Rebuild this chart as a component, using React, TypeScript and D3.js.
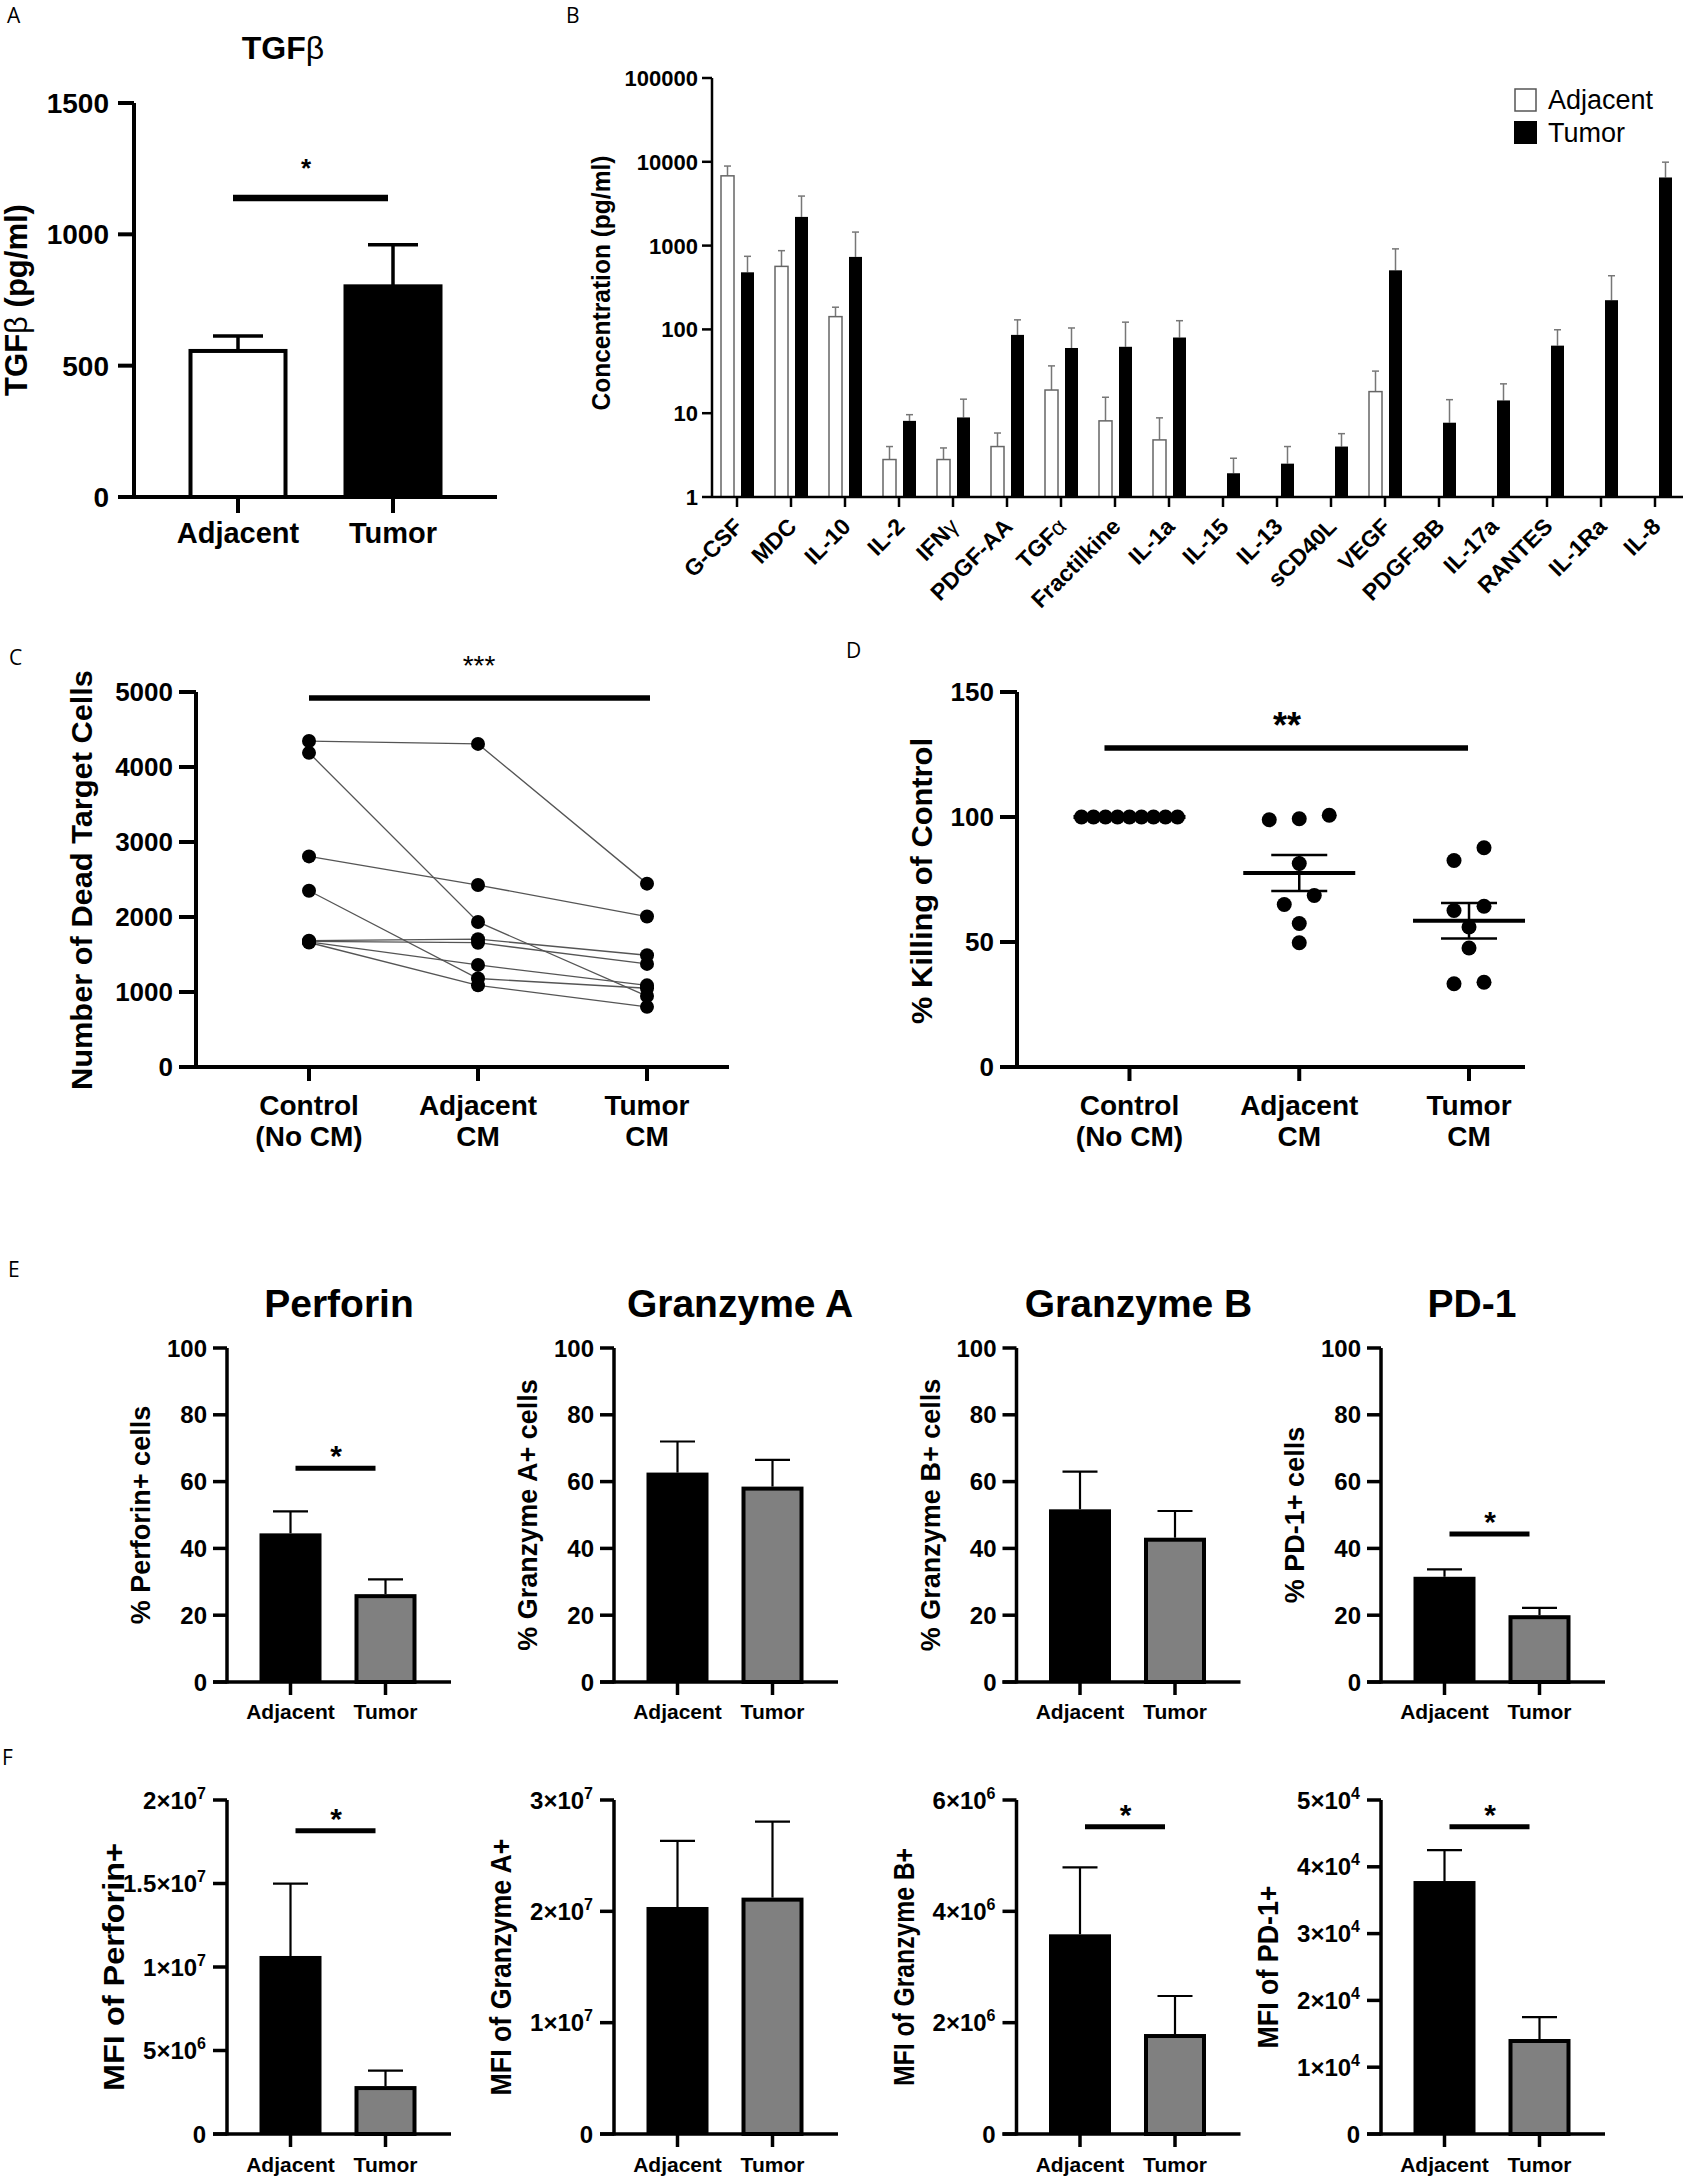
import React from "react";
import * as d3 from "d3";

const W = 1689;
const H = 2180;
const SANS = "'Liberation Sans', Arial, Helvetica, sans-serif";
const LETTER = "'Open Sans', 'Liberation Sans', sans-serif";

// A: TGFβ (pg/ml)
const tgfGroups = ["Adjacent", "Tumor"];
const tgfMean = [556, 802];
const tgfUpper = [613, 960];
const tgfTicks = [0, 500, 1000, 1500];

// B: cytokine concentrations (pg/ml), log axis
const cytokines = [
  "G-CSF", "MDC", "IL-10", "IL-2", "IFNγ", "PDGF-AA", "TGFα", "Fractilkine", "IL-1a",
  "IL-15", "IL-13", "sCD40L", "VEGF", "PDGF-BB", "IL-17a", "RANTES", "IL-1Ra", "IL-8",
];
const cytoAdjMean = [6800, 565, 142, 2.8, 2.8, 4.0, 18.9, 8.1, 4.8, null, null, null, 18.1, null, null, null, null, null];
const cytoAdjUpper = [8900, 870, 184, 4.0, 3.85, 5.8, 36.7, 15.5, 8.8, null, null, null, 31.8, null, null, null, null, null];
const cytoTumMean = [480, 2200, 733, 8.1, 8.9, 86, 60, 62, 80, 1.92, 2.5, 4.0, 507, 7.7, 14.2, 64, 223, 6500];
const cytoTumUpper = [745, 3900, 1450, 9.6, 14.7, 130, 104, 122, 127, 2.9, 4.0, 5.7, 914, 14.5, 22.4, 99, 437, 9900];
const cytoTicks = [1, 10, 100, 1000, 10000, 100000];

// C: dead target cells per donor [control, adjacent CM, tumor CM]
const cmLine1 = ["Control", "Adjacent", "Tumor"];
const cmLine2 = ["(No CM)", "CM", "CM"];
const deadCells = [
  [4346, 4308, 2445],
  [4189, 1934, 946],
  [2808, 2426, 2006],
  [2350, 1180, 1050],
  [1685, 1705, 1490],
  [1675, 1657, 1375],
  [1668, 1361, 1089],
  [1660, 1089, 802],
];
const deadTicks = [0, 1000, 2000, 3000, 4000, 5000];

// D: % killing of control
const killControl = [100, 100, 100, 100, 100, 100, 100, 100, 100];
const killAdjacent = [100.7, 99.3, 98.9, 81.4, 68.6, 65, 57.4, 49.7];
const killTumor = [87.7, 82.6, 64.3, 62.6, 56, 47.6, 33.9, 33.3];
const killTicks = [0, 50, 100, 150];

// E: % positive cells
const markers = ["Perforin", "Granzyme A", "Granzyme B", "PD-1"];
const pctLabels = ["% Perforin+ cells", "% Granzyme A+ cells", "% Granzyme B+ cells", "% PD-1+ cells"];
const pctAdj = [44.5, 62.7, 51.7, 31.5];
const pctAdjUpper = [51.1, 72, 63, 33.7];
const pctTum = [26.3, 58.5, 43.2, 20];
const pctTumUpper = [30.7, 66.5, 51.2, 22.2];
const pctSig = [64, null, null, 44.3];
const pctTicks = [0, 20, 40, 60, 80, 100];

// F: MFI
const mfiLabels = ["MFI of Perforin+", "MFI of Granzyme A+", "MFI of Granzyme B+", "MFI of PD-1+"];
const mfiAdj = [1.066e7, 2.039e7, 3.587e6, 3.787e4];
const mfiAdjUpper = [1.499e7, 2.632e7, 4.79e6, 4.25e4];
const mfiTum = [2.87e6, 2.123e7, 1.796e6, 1.422e4];
const mfiTumUpper = [3.79e6, 2.805e7, 2.479e6, 1.75e4];
const mfiSig = [1.816e7, null, 5.52e6, 4.6e4];
const mfiTicks = [
  [0, 5e6, 1e7, 1.5e7, 2e7],
  [0, 1e7, 2e7, 3e7],
  [0, 2e6, 4e6, 6e6],
  [0, 1e4, 2e4, 3e4, 4e4, 5e4],
];

// layout of the E/F sub panels
const subAxisX = [227, 614, 1016.5, 1381];
const subTitleDx = [112, 126, 122, 91];
const mfiLabelLen = [248, 257, 238, 163];

const splitGreek = (s: string) => {
  const last = s[s.length - 1];
  return /[α-ω]/.test(last) ? [s.slice(0, -1), last] : [s, ""];
};

const sci = (v: number) => {
  if (v === 0) return ["0", ""];
  const e = Math.floor(Math.log10(v) + 1e-9);
  const m = +(v / 10 ** e).toFixed(1);
  return [`${m}×10`, String(e)];
};

function PanelA() {
  const y = d3.scaleLinear().domain([0, 1500]).range([497, 103]);
  const x = d3.scalePoint<string>().domain(tgfGroups).range([160.5, 470.5]).padding(0.5);
  const axX = 134;
  return (
    <g>
      <text x={7} y={23} fontFamily={LETTER} fontSize={21}>A</text>
      <text x={283} y={59} textAnchor="middle" fontSize={32} fontWeight="bold">
        TGF<tspan fontWeight="normal">β</tspan>
      </text>
      {tgfGroups.map((g, i) => {
        const cx = x(g)!;
        return (
          <g key={g}>
            <line x1={cx} x2={cx} y1={y(tgfMean[i])} y2={y(tgfUpper[i])} stroke="#000" strokeWidth={3.5} />
            <line x1={cx - 25} x2={cx + 25} y1={y(tgfUpper[i])} y2={y(tgfUpper[i])} stroke="#000" strokeWidth={3.5} />
            <rect x={cx - 47.5} width={95} y={y(tgfMean[i])} height={y(0) - y(tgfMean[i])}
              fill={i === 0 ? "#fff" : "#000"} stroke="#000" strokeWidth={4} />
          </g>
        );
      })}
      <line x1={axX} x2={axX} y1={103} y2={499} stroke="#000" strokeWidth={4} />
      <line x1={118} x2={497} y1={497} y2={497} stroke="#000" strokeWidth={4} />
      {tgfTicks.map((t) => (
        <g key={t}>
          <line x1={118} x2={axX} y1={y(t)} y2={y(t)} stroke="#000" strokeWidth={4} />
          <text x={109} y={y(t)} dy="0.36em" textAnchor="end" fontSize={28} fontWeight="bold">{t}</text>
        </g>
      ))}
      {tgfGroups.map((g) => (
        <g key={g}>
          <line x1={x(g)!} x2={x(g)!} y1={497} y2={513} stroke="#000" strokeWidth={4} />
          <text x={x(g)!} y={543} textAnchor="middle" fontSize={29} fontWeight="bold">{g}</text>
        </g>
      ))}
      <text transform="translate(27,300) rotate(-90)" textAnchor="middle" fontSize={31} fontWeight="bold">
        TGF<tspan fontWeight="normal">β</tspan> (pg/ml)
      </text>
      <line x1={x(tgfGroups[0])! - 5} x2={x(tgfGroups[1])! - 5} y1={198} y2={198} stroke="#000" strokeWidth={6.5} />
      <text x={306} y={177} textAnchor="middle" fontSize={26} fontWeight="bold">*</text>
    </g>
  );
}

function PanelB() {
  const y = d3.scaleLog().domain([1, 100000]).range([497, 78]);
  const x = d3.scalePoint<string>().domain(cytokines).range([737, 1655]);
  const axX = 712;
  const bw = 13;
  return (
    <g>
      <text x={566} y={23} fontFamily={LETTER} fontSize={21}>B</text>
      {cytokines.map((c, i) => {
        const cx = x(c)!;
        const a = cytoAdjMean[i];
        const au = cytoAdjUpper[i];
        const t = cytoTumMean[i];
        const tu = cytoTumUpper[i];
        return (
          <g key={c}>
            {a != null && au != null && (
              <g>
                <line x1={cx - 9.5} x2={cx - 9.5} y1={y(a)} y2={y(au)} stroke="#777" strokeWidth={1.5} />
                <line x1={cx - 13} x2={cx - 6} y1={y(au)} y2={y(au)} stroke="#777" strokeWidth={1.5} />
                <rect x={cx - 16} width={bw} y={y(a)} height={y(1) - y(a)} fill="#fff" stroke="#666" strokeWidth={1.5} />
              </g>
            )}
            <line x1={cx + 10.5} x2={cx + 10.5} y1={y(t)} y2={y(tu)} stroke="#777" strokeWidth={1.5} />
            <line x1={cx + 7} x2={cx + 14} y1={y(tu)} y2={y(tu)} stroke="#777" strokeWidth={1.5} />
            <rect x={cx + 4} width={bw} y={y(t)} height={y(1) - y(t)} fill="#000" />
          </g>
        );
      })}
      <line x1={axX} x2={axX} y1={78} y2={498} stroke="#000" strokeWidth={2.5} />
      <line x1={axX} x2={1683} y1={497} y2={497} stroke="#000" strokeWidth={2.5} />
      {cytoTicks.map((t) => (
        <g key={t}>
          <line x1={702} x2={axX} y1={y(t)} y2={y(t)} stroke="#000" strokeWidth={2.5} />
          <text x={698} y={y(t)} dy="0.36em" textAnchor="end" fontSize={22} fontWeight="bold">{t}</text>
        </g>
      ))}
      {cytokines.map((c) => {
        const [main, greek] = splitGreek(c);
        return (
          <g key={c}>
            <line x1={x(c)!} x2={x(c)!} y1={497} y2={507} stroke="#000" strokeWidth={2.5} />
            <text transform={`translate(${x(c)! + 7},${528}) rotate(-45)`} textAnchor="end" fontSize={23} fontWeight="bold">
              {main}
              {greek && <tspan fontWeight="normal">{greek}</tspan>}
            </text>
          </g>
        );
      })}
      <text transform="translate(610,283) rotate(-90)" textAnchor="middle" fontSize={26} fontWeight="bold"
        textLength={255} lengthAdjust="spacingAndGlyphs">
        Concentration (pg/ml)
      </text>
      <rect x={1515} y={89} width={21} height={22} fill="#fff" stroke="#555" strokeWidth={1.5} />
      <rect x={1514} y={121} width={23} height={23} fill="#000" />
      <text x={1548} y={109} fontSize={27}>Adjacent</text>
      <text x={1548} y={142} fontSize={27}>Tumor</text>
    </g>
  );
}

function CmAxis({ x, y, axX, xEnd, ticks }: {
  x: d3.ScalePoint<string>; y: d3.ScaleLinear<number, number>; axX: number; xEnd: number; ticks: number[];
}) {
  const [y0, y1] = y.range();
  return (
    <g>
      <line x1={axX} x2={axX} y1={y1} y2={y0 + 2} stroke="#000" strokeWidth={4} />
      <line x1={axX - 16} x2={xEnd} y1={y0} y2={y0} stroke="#000" strokeWidth={4} />
      {ticks.map((t) => (
        <g key={t}>
          <line x1={axX - 17} x2={axX} y1={y(t)} y2={y(t)} stroke="#000" strokeWidth={4} />
          <text x={axX - 23} y={y(t)} dy="0.36em" textAnchor="end" fontSize={26} fontWeight="bold">{t}</text>
        </g>
      ))}
      {cmLine1.map((g, i) => (
        <g key={g}>
          <line x1={x(g)!} x2={x(g)!} y1={y0} y2={y0 + 14} stroke="#000" strokeWidth={4} />
          <text x={x(g)!} y={1115} textAnchor="middle" fontSize={28} fontWeight="bold">{g}</text>
          <text x={x(g)!} y={1146} textAnchor="middle" fontSize={28} fontWeight="bold">{cmLine2[i]}</text>
        </g>
      ))}
    </g>
  );
}

function PanelC() {
  const y = d3.scaleLinear().domain([0, 5000]).range([1067, 692]);
  const x = d3.scalePoint<string>().domain(cmLine1).range([224.5, 731.5]).padding(0.5);
  const line = d3.line<number>().x((_, i) => x(cmLine1[i])!).y((v) => y(v));
  return (
    <g>
      <text x={9} y={665} fontFamily={LETTER} fontSize={21}>C</text>
      {deadCells.map((d, k) => (
        <path key={k} d={line(d)!} fill="none" stroke="#555" strokeWidth={1.3} />
      ))}
      {deadCells.map((d, k) =>
        d.map((v, i) => <circle key={`${k}-${i}`} cx={x(cmLine1[i])!} cy={y(v)} r={7} fill="#000" />)
      )}
      <CmAxis x={x} y={y} axX={196} xEnd={729} ticks={deadTicks} />
      <text transform="translate(92,880) rotate(-90)" textAnchor="middle" fontSize={29} fontWeight="bold"
        textLength={420} lengthAdjust="spacingAndGlyphs">
        Number of Dead Target Cells
      </text>
      <line x1={x(cmLine1[0])!} x2={x(cmLine1[2])! + 3} y1={698} y2={698} stroke="#000" strokeWidth={5.5} />
      <text x={479} y={675} textAnchor="middle" fontSize={28}>***</text>
    </g>
  );
}

// dots closer than a diameter form a row, spread symmetrically
function swarm(values: number[], y: (v: number) => number, gap: number, maxSpan: number, rowGap: number) {
  const sorted = [...values].sort((a, b) => a - b);
  const rows: number[][] = [];
  sorted.forEach((v) => {
    const last = rows[rows.length - 1];
    if (last && Math.abs(y(last[last.length - 1]) - y(v)) < rowGap) last.push(v);
    else rows.push([v]);
  });
  return rows.flatMap((row) => {
    const n = row.length;
    const step = n > 1 ? Math.min(gap, maxSpan / (n - 1)) : 0;
    return row.map((v, k) => ({ v, dx: (k - (n - 1) / 2) * step }));
  });
}

function PanelD() {
  const y = d3.scaleLinear().domain([0, 150]).range([1067, 692]);
  const x = d3.scalePoint<string>().domain(cmLine1).range([1044.6, 1553.9]).padding(0.5);
  const groups = [killControl, killAdjacent, killTumor];
  return (
    <g>
      <text x={846} y={658} fontFamily={LETTER} fontSize={21}>D</text>
      {groups.map((vals, i) => {
        const cx = x(cmLine1[i])!;
        const m = d3.mean(vals)!;
        const sem = (d3.deviation(vals) ?? 0) / Math.sqrt(vals.length);
        return (
          <g key={i}>
            {swarm(vals, y, 30, 96, 14).map((d, k) => (
              <circle key={k} cx={cx + d.dx} cy={y(d.v)} r={7.5} fill="#000" />
            ))}
            <line x1={cx - 56} x2={cx + 56} y1={y(m)} y2={y(m)} stroke="#000" strokeWidth={4} />
            {sem > 0 && (
              <g stroke="#000" strokeWidth={2.5}>
                <line x1={cx} x2={cx} y1={y(m - sem)} y2={y(m + sem)} />
                <line x1={cx - 28} x2={cx + 28} y1={y(m + sem)} y2={y(m + sem)} />
                <line x1={cx - 28} x2={cx + 28} y1={y(m - sem)} y2={y(m - sem)} />
              </g>
            )}
          </g>
        );
      })}
      <CmAxis x={x} y={y} axX={1017} xEnd={1525} ticks={killTicks} />
      <text transform="translate(932,881) rotate(-90)" textAnchor="middle" fontSize={30} fontWeight="bold"
        textLength={286} lengthAdjust="spacingAndGlyphs">
        % Killing of Control
      </text>
      <line x1={x(cmLine1[0])! - 25} x2={x(cmLine1[2])! - 1} y1={748} y2={748} stroke="#000" strokeWidth={5.5} />
      <text x={1287} y={738} textAnchor="middle" fontSize={36} fontWeight="bold">**</text>
    </g>
  );
}

type SubProps = {
  i: number; top: number; bottom: number; max: number; ticks: number[];
  adj: number; adjUp: number; tum: number; tumUp: number; sig: number | null;
  label: string; labelLen?: number; sciTicks: boolean; title?: string; xLabelY: number;
};

function SubPanel(p: SubProps) {
  const axX = subAxisX[p.i];
  const y = d3.scaleLinear().domain([0, p.max]).range([p.bottom, p.top]);
  const x = d3.scalePoint<string>().domain(tgfGroups).range([axX + 16, axX + 206]).padding(0.5);
  const ca = x(tgfGroups[0])!;
  const ct = x(tgfGroups[1])!;
  const err = (cx: number, v: number, up: number) => (
    <g stroke="#000" strokeWidth={2.2}>
      <line x1={cx} x2={cx} y1={y(v)} y2={y(up)} />
      <line x1={cx - 17.5} x2={cx + 17.5} y1={y(up)} y2={y(up)} />
    </g>
  );
  return (
    <g>
      {p.title && (
        <text x={axX + subTitleDx[p.i]} y={1317} textAnchor="middle" fontSize={39} fontWeight="bold">{p.title}</text>
      )}
      {err(ca, p.adj, p.adjUp)}
      {err(ct, p.tum, p.tumUp)}
      <rect x={ca - 31} width={62} y={y(p.adj)} height={y(0) - y(p.adj)} fill="#000" />
      <rect x={ct - 29} width={58} y={y(p.tum) + 2} height={y(0) - y(p.tum) - 2} fill="#808080" stroke="#000" strokeWidth={4} />
      <line x1={axX} x2={axX} y1={p.top} y2={p.bottom + 1.5} stroke="#000" strokeWidth={3.5} />
      <line x1={axX - 14} x2={axX + 224} y1={p.bottom} y2={p.bottom} stroke="#000" strokeWidth={3.5} />
      {p.ticks.map((t) => {
        const [base, exp] = p.sciTicks ? sci(t) : [String(t), ""];
        return (
          <g key={t}>
            <line x1={axX - 14} x2={axX} y1={y(t)} y2={y(t)} stroke="#000" strokeWidth={3.5} />
            <text x={p.sciTicks ? axX - 21 : axX - 20} y={y(t)} dy="0.36em" textAnchor="end"
              fontSize={p.sciTicks ? 24 : 24} fontWeight="bold">
              {base}
              {exp && <tspan dy="-10" fontSize={16}>{exp}</tspan>}
            </text>
          </g>
        );
      })}
      {tgfGroups.map((g) => (
        <g key={g}>
          <line x1={x(g)!} x2={x(g)!} y1={p.bottom} y2={p.bottom + 13} stroke="#000" strokeWidth={3.5} />
          <text x={x(g)!} y={p.xLabelY} textAnchor="middle" fontSize={21} fontWeight="bold">{g}</text>
        </g>
      ))}
      <text transform={`translate(${p.sciTicks ? axX - 103 : axX - 77},${(p.top + p.bottom) / 2}) rotate(-90)`}
        textAnchor="middle" fontSize={p.sciTicks ? 29 : 27} fontWeight="bold"
        textLength={p.labelLen} lengthAdjust={p.labelLen ? "spacingAndGlyphs" : undefined}>
        {p.label}
      </text>
      {p.sig != null && (
        <g>
          <line x1={ca + 5} x2={ct - 10} y1={y(p.sig)} y2={y(p.sig)} stroke="#000" strokeWidth={5} />
          <text x={(ca + ct) / 2 - 2} y={y(p.sig) - 2} textAnchor="middle" fontSize={30} fontWeight="bold">*</text>
        </g>
      )}
    </g>
  );
}

function PanelE() {
  return (
    <g>
      <text x={8} y={1277} fontFamily={LETTER} fontSize={21}>E</text>
      {markers.map((m, i) => (
        <SubPanel key={m} i={i} top={1348} bottom={1682} max={100} ticks={pctTicks}
          adj={pctAdj[i]} adjUp={pctAdjUpper[i]} tum={pctTum[i]} tumUp={pctTumUpper[i]} sig={pctSig[i]}
          label={pctLabels[i]} sciTicks={false} title={m} xLabelY={1719} />
      ))}
    </g>
  );
}

function PanelF() {
  return (
    <g>
      <text x={2} y={1765} fontFamily={LETTER} fontSize={21}>F</text>
      {markers.map((m, i) => (
        <SubPanel key={m} i={i} top={1800} bottom={2134} max={mfiTicks[i][mfiTicks[i].length - 1]} ticks={mfiTicks[i]}
          adj={mfiAdj[i]} adjUp={mfiAdjUpper[i]} tum={mfiTum[i]} tumUp={mfiTumUpper[i]} sig={mfiSig[i]}
          label={mfiLabels[i]} labelLen={mfiLabelLen[i]} sciTicks={true} xLabelY={2172} />
      ))}
    </g>
  );
}

export default function App() {
  return (
    <svg width={W} height={H} viewBox={`0 0 ${W} ${H}`} fontFamily={SANS}
      style={{ position: "absolute", left: 0, top: 0, display: "block", background: "#fff" }}>
      <rect width={W} height={H} fill="#fff" />
      <PanelA />
      <PanelB />
      <PanelC />
      <PanelD />
      <PanelE />
      <PanelF />
    </svg>
  );
}
